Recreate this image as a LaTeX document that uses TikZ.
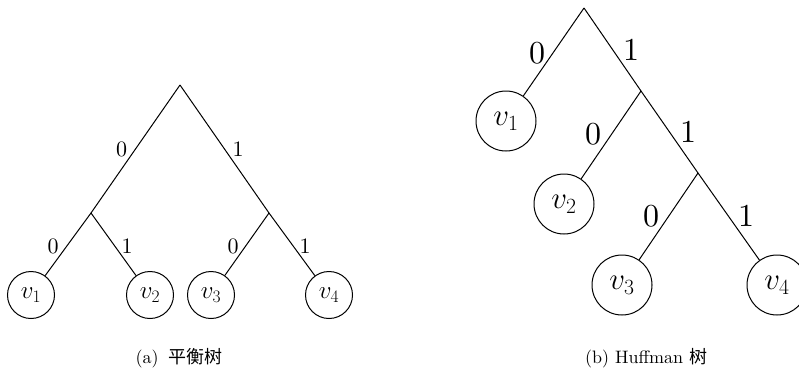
\RequirePackage{fix-cm}
\documentclass[tikz,border=0pt]{standalone}
\usepackage{fontspec}
\setmainfont{lmroman10-regular.otf}[ItalicFont=lmroman10-italic.otf,BoldFont=lmroman10-bold.otf]
\newfontfamily\cjk{Noto Sans CJK SC}
\begin{document}
\begin{tikzpicture}[x=1pt,y=-1pt, line width=1pt,
  lleaf/.style={circle,draw,inner sep=0pt,minimum size=47pt,font=\fontsize{25}{29}\selectfont},
  rleaf/.style={circle,draw,inner sep=0pt,minimum size=60pt,font=\fontsize{31}{36}\selectfont},
  llab/.style={font=\fontsize{22}{26}\selectfont},
  rlab/.style={font=\fontsize{32}{36}\selectfont},
  captext/.style={font=\fontsize{18}{21}\selectfont}]
\useasboundingbox (0,0) rectangle (799,381);
% ---- left tree (balanced)
\coordinate (R) at (180,85);
\coordinate (A) at (91,213);
\coordinate (B) at (269,213);
\node[lleaf] (v1) at (31,295) {$v_1$};
\node[lleaf] (v2) at (150,295) {$v_2$};
\node[lleaf] (v3) at (211,295) {$v_3$};
\node[lleaf] (v4) at (329,295) {$v_4$};
\draw (R) -- (A);
\draw (R) -- (B);
\draw (A) -- (v1);
\draw (A) -- (v2);
\draw (B) -- (v3);
\draw (B) -- (v4);
\node[llab] (la) at (121.5,149) {0};
\node[llab] (lb) at (238,149) {1};
\node[llab] (lc) at (53,246) {0};
\node[llab] (ld) at (127,246) {1};
\node[llab] (le) at (233,246) {0};
\node[llab] (lf) at (305,246) {1};
\node[captext] (capa) at (179,358) {(a)\hspace{0.2em} {\cjk 平衡树}};
% ---- right tree (Huffman)
\coordinate (S) at (584,8);
\coordinate (C1) at (641,91);
\coordinate (C2) at (698,173);
\node[rleaf] (w1) at (506,121) {$v_1$};
\node[rleaf] (w2) at (564,204) {$v_2$};
\node[rleaf] (w3) at (622,285) {$v_3$};
\node[rleaf] (w4) at (777,285) {$v_4$};
\draw (S) -- (w1);
\draw (S) -- (C1);
\draw (C1) -- (w2);
\draw (C1) -- (C2);
\draw (C2) -- (w3);
\draw (C2) -- (w4);
\node[rlab] (ra) at (537,53) {0};
\node[rlab] (rb) at (631,50) {1};
\node[rlab] (rc) at (593,134) {0};
\node[rlab] (rd) at (688,132) {1};
\node[rlab] (re) at (651,216) {0};
\node[rlab] (rf) at (746,216) {1};
\node[captext] (capb) at (646,358) {(b) Huffman {\cjk 树}};
\end{tikzpicture}
\end{document}
